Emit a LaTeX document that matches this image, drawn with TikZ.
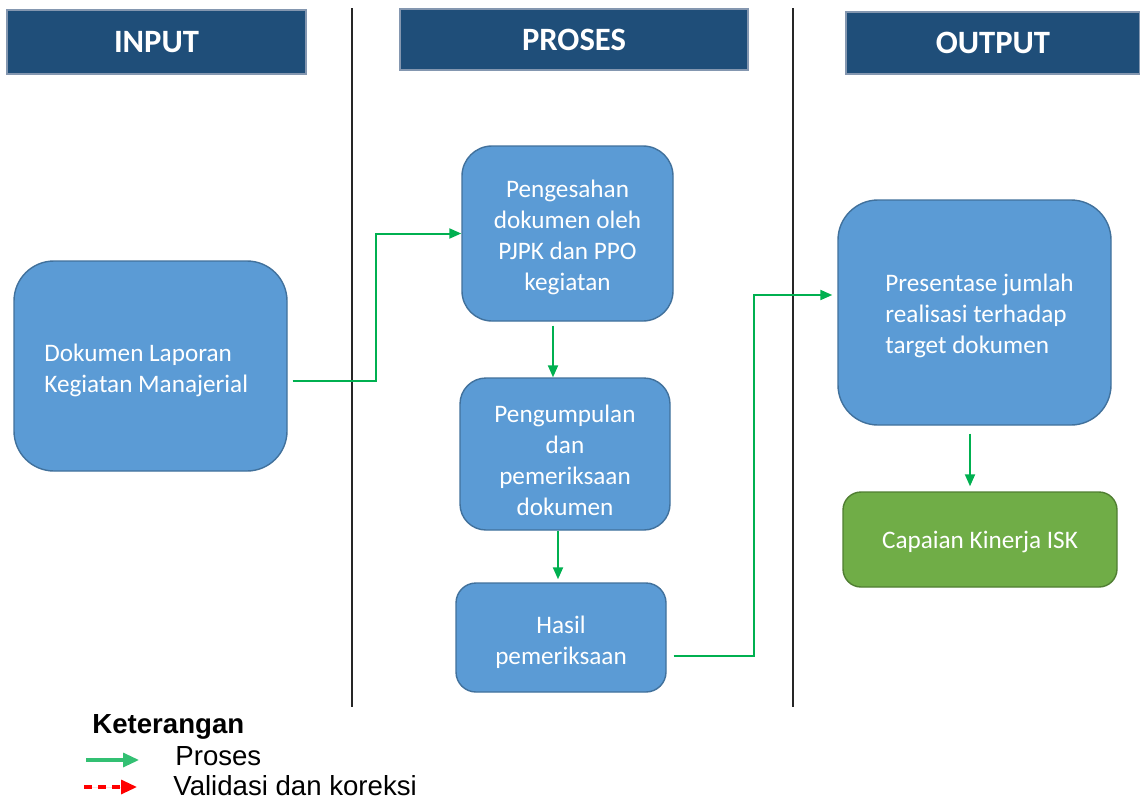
\documentclass[tikz,border=0pt]{standalone}
\usepackage{fontspec}
\setmainfont{Carlito}
\newfontfamily\arialfont{Liberation Sans}
\usetikzlibrary{calc,arrows.meta}
\definecolor{hdrblue}{HTML}{1F4E79}
\definecolor{hdrline}{HTML}{8497B0}
\definecolor{boxblue}{HTML}{5B9BD5}
\definecolor{boxline}{HTML}{41719C}
\definecolor{boxgreen}{HTML}{70AD47}
\definecolor{greenline}{HTML}{507E32}
\definecolor{flowgreen}{HTML}{00B050}
\tikzset{
  header/.style={draw=hdrline, line width=0.6pt, fill=hdrblue, text=white,
    font=\fontsize{16.3}{19}\selectfont\bfseries, inner sep=0pt},
  boxfont/.style={font=\fontsize{12.6}{15.5}\selectfont},
  procbox/.style={draw=boxline, line width=0.7pt, fill=boxblue, text=white,
    boxfont, inner sep=0pt},
  resbox/.style={draw=greenline, line width=0.7pt, fill=boxgreen, text=white,
    boxfont, inner sep=0pt},
  boxtext/.style={boxfont, text=white, inner sep=0pt},
  flow/.style={draw=flowgreen, line width=1pt, -{Triangle[length=6pt,width=5pt]}},
  lane/.style={draw=black!85, line width=0.8pt},
  legtext/.style={font=\arialfont\fontsize{13.8}{16}\selectfont, inner sep=0pt, anchor=base west},
  legarrow/.style={line width=1.6pt, -{Triangle[length=8pt,width=7pt]}},
}
\begin{document}
\begin{tikzpicture}[x=0.5pt,y=-0.5pt]
\useasboundingbox[fill=white] (0,0) rectangle (1140,803);
% lanes
\coordinate (l1t) at (352,8); \coordinate (l1b) at (352,707);
\coordinate (l2t) at (793,8); \coordinate (l2b) at (793,707);
\draw[lane] (l1t) -- (l1b);
\draw[lane] (l2t) -- (l2b);
% headers
\node[header, minimum width=149.5pt, minimum height=32pt] (hin) at (156.5,42) {INPUT};
\node[header, minimum width=174pt, minimum height=30.5pt] (hpr) at (574,39.5) {PROSES};
\node[header, minimum width=147pt, minimum height=31pt] (hout) at (993,43) {OUTPUT};
% boxes
\node[procbox, rounded corners=20pt, minimum width=136.5pt, minimum height=105pt] (A) at (150.5,366) {};
\node[boxtext, align=left, anchor=west] (At) at (44,370) {Dokumen Laporan\\Kegiatan Manajerial};
\node[procbox, rounded corners=15pt, minimum width=105.5pt, minimum height=87.5pt] (B) at (567.5,233.5) {};
\node[boxtext, align=center] (Bt) at (567.5,237) {Pengesahan\\dokumen oleh\\PJPK dan PPO\\kegiatan};
\node[procbox, rounded corners=13pt, minimum width=105pt, minimum height=76pt] (C) at (565,454) {};
\node[boxtext, align=center] (Ct) at (565,460) {Pengumpulan\\dan\\pemeriksaan\\dokumen};
\node[procbox, rounded corners=10pt, minimum width=105pt, minimum height=54.5pt] (D) at (561,637.5) {};
\node[boxtext, align=center] (Dt) at (561,642) {Hasil\\pemeriksaan};
\node[procbox, rounded corners=20pt, minimum width=136.5pt, minimum height=112.5pt] (E) at (974.5,312.5) {};
\node[boxtext, align=left, anchor=west] (Et) at (885,316) {Presentase jumlah\\realisasi terhadap\\target dokumen};
\node[resbox, rounded corners=9pt, minimum width=137pt, minimum height=47.5pt] (F) at (980,539.5) {};
\node[boxtext] (Ft) at (980,542) {Capaian Kinerja ISK};
% connectors
\draw[flow] ($(A.east)+(5,15)$) -- ++(83,0) |- (B.west);
\draw[flow] ($(B.south)+(-14.5,4)$) -- ($(C.north)+(-12,0)$);
\draw[flow] ($(C.south)+(-7,0)$) -- ($(D.north)+(-3,-3)$);
\draw[flow] ($(D.east)+(7,18.5)$) -- ++(80,0) |- ($(E.west)+(-5,-17.5)$);
\draw[flow] ($(E.south)+(-4.5,8)$) -- ($(F.north)+(-10,-5)$);
% legend
\node[legtext, font=\arialfont\bfseries\fontsize{13.8}{16}\selectfont] (ket) at (92,733) {Keterangan};
\node[legtext] (lp) at (175,765) {Proses};
\node[legtext] (lv) at (173,795) {Validasi dan koreksi};
\coordinate (g1) at (86,760); \coordinate (g2) at (139,760);
\coordinate (r1) at (84,787); \coordinate (r2) at (137,787);
\draw[legarrow, draw=flowgreen!80, fill=flowgreen!80] (g1) -- (g2);
\draw[legarrow, draw=red, fill=red, dash pattern=on 4pt off 3pt] (r1) -- (r2);
\end{tikzpicture}
\end{document}
